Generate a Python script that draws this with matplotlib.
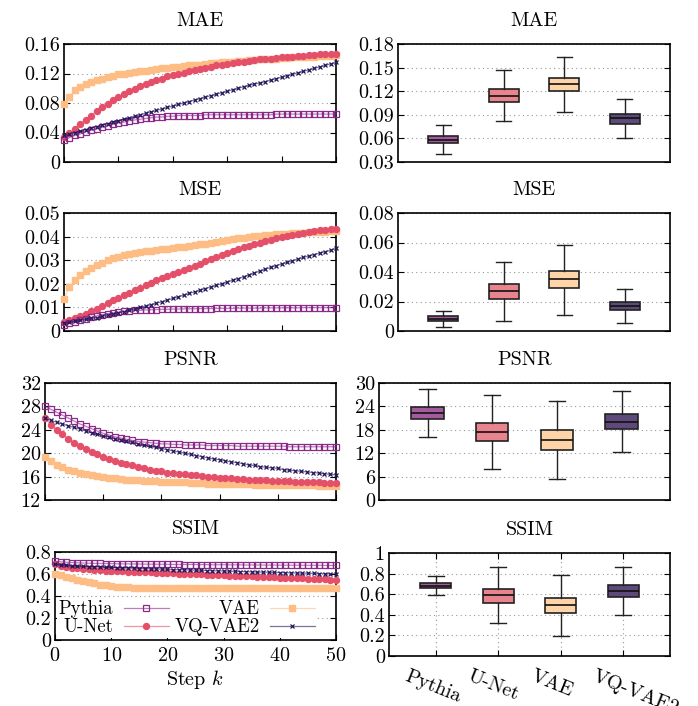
import matplotlib
matplotlib.use("Agg")
import matplotlib.pyplot as plt
from matplotlib.colors import to_rgba
from matplotlib.ticker import FuncFormatter, MultipleLocator

plt.rcParams['font.family'] = 'serif'
plt.rcParams['font.serif'] = ['cmr10', 'DejaVu Serif']
plt.rcParams['mathtext.fontset'] = 'cm'
plt.rcParams['axes.formatter.use_mathtext'] = True

models = ["Pythia", "U-Net", "VAE", "VQ-VAE2"]
steps = list(range(51))

# ---- per-step curves (left column) ----
mae_pythia = [0.030, 0.033, 0.036, 0.038, 0.041, 0.043, 0.045, 0.047, 0.049, 0.051,
              0.053, 0.054, 0.056, 0.057, 0.058, 0.059, 0.060, 0.061, 0.061, 0.062,
              0.062, 0.063, 0.063, 0.063, 0.063, 0.063, 0.064, 0.064, 0.064, 0.064,
              0.064, 0.064, 0.064, 0.064, 0.064, 0.064, 0.064, 0.064, 0.064, 0.065,
              0.065, 0.065, 0.065, 0.065, 0.065, 0.065, 0.065, 0.065, 0.065, 0.065, 0.065]
mae_unet = [0.034, 0.039, 0.045, 0.051, 0.057, 0.063, 0.069, 0.074, 0.079, 0.084,
            0.088, 0.092, 0.096, 0.099, 0.103, 0.106, 0.109, 0.111, 0.113, 0.116,
            0.118, 0.120, 0.121, 0.123, 0.125, 0.126, 0.128, 0.129, 0.131, 0.132,
            0.133, 0.134, 0.135, 0.136, 0.137, 0.138, 0.139, 0.139, 0.140, 0.141,
            0.142, 0.142, 0.143, 0.144, 0.144, 0.145, 0.145, 0.146, 0.146, 0.147, 0.147]
mae_vae = [0.078, 0.088, 0.097, 0.102, 0.106, 0.109, 0.111, 0.113, 0.115, 0.117,
           0.119, 0.120, 0.121, 0.122, 0.123, 0.124, 0.125, 0.126, 0.127, 0.128,
           0.129, 0.129, 0.130, 0.131, 0.132, 0.132, 0.133, 0.134, 0.134, 0.135,
           0.136, 0.136, 0.137, 0.137, 0.138, 0.138, 0.139, 0.139, 0.140, 0.140,
           0.141, 0.141, 0.142, 0.142, 0.143, 0.143, 0.143, 0.144, 0.144, 0.144, 0.145]
mae_vqvae = [0.036, 0.038, 0.040, 0.042, 0.044, 0.046, 0.048, 0.050, 0.052, 0.054,
             0.056, 0.058, 0.060, 0.062, 0.064, 0.066, 0.068, 0.070, 0.072, 0.074,
             0.076, 0.078, 0.080, 0.082, 0.084, 0.086, 0.088, 0.090, 0.092, 0.094,
             0.096, 0.098, 0.100, 0.102, 0.104, 0.106, 0.107, 0.109, 0.111, 0.113,
             0.115, 0.117, 0.119, 0.121, 0.123, 0.125, 0.127, 0.129, 0.131, 0.133, 0.135]

mse_pythia = [0.0026, 0.0033, 0.0040, 0.0046, 0.0052, 0.0058, 0.0064, 0.0069, 0.0073, 0.0077,
              0.0080, 0.0083, 0.0085, 0.0087, 0.0088, 0.0089, 0.0090, 0.0091, 0.0092, 0.0092,
              0.0093, 0.0093, 0.0094, 0.0094, 0.0094, 0.0095, 0.0095, 0.0095, 0.0096, 0.0096,
              0.0096, 0.0096, 0.0097, 0.0097, 0.0097, 0.0097, 0.0097, 0.0098, 0.0098, 0.0098,
              0.0098, 0.0098, 0.0098, 0.0098, 0.0099, 0.0099, 0.0099, 0.0099, 0.0099, 0.0099, 0.0099]
mse_unet = [0.0038, 0.0045, 0.0053, 0.0062, 0.0072, 0.0083, 0.0095, 0.0107, 0.0118, 0.0130,
            0.0141, 0.0152, 0.0163, 0.0174, 0.0184, 0.0194, 0.0204, 0.0214, 0.0223, 0.0232,
            0.0241, 0.0250, 0.0259, 0.0268, 0.0277, 0.0286, 0.0295, 0.0304, 0.0313, 0.0322,
            0.0330, 0.0338, 0.0346, 0.0354, 0.0361, 0.0368, 0.0375, 0.0381, 0.0387, 0.0393,
            0.0398, 0.0403, 0.0408, 0.0412, 0.0416, 0.0420, 0.0423, 0.0426, 0.0429, 0.0431, 0.0433]
mse_vae = [0.0136, 0.0185, 0.0215, 0.0238, 0.0255, 0.0268, 0.0280, 0.0290, 0.0300, 0.0308,
           0.0315, 0.0320, 0.0325, 0.0330, 0.0334, 0.0337, 0.0340, 0.0343, 0.0346, 0.0349,
           0.0352, 0.0355, 0.0358, 0.0361, 0.0364, 0.0367, 0.0370, 0.0374, 0.0378, 0.0382,
           0.0386, 0.0390, 0.0393, 0.0396, 0.0399, 0.0401, 0.0403, 0.0405, 0.0407, 0.0409,
           0.0411, 0.0413, 0.0414, 0.0416, 0.0417, 0.0418, 0.0419, 0.0420, 0.0421, 0.0422, 0.0423]
mse_vqvae = [0.0033, 0.0037, 0.0041, 0.0045, 0.0049, 0.0053, 0.0057, 0.0062, 0.0067, 0.0072,
             0.0077, 0.0082, 0.0088, 0.0094, 0.0100, 0.0106, 0.0112, 0.0118, 0.0124, 0.0131,
             0.0138, 0.0145, 0.0152, 0.0159, 0.0166, 0.0173, 0.0180, 0.0187, 0.0194, 0.0201,
             0.0208, 0.0215, 0.0222, 0.0230, 0.0238, 0.0246, 0.0254, 0.0262, 0.0270, 0.0277,
             0.0284, 0.0291, 0.0298, 0.0305, 0.0312, 0.0318, 0.0324, 0.0330, 0.0336, 0.0342, 0.0350]

psnr_pythia = [28.0, 27.5, 27.0, 26.5, 26.0, 25.5, 25.0, 24.6, 24.2, 23.8,
               23.4, 23.1, 22.8, 22.6, 22.4, 22.2, 22.0, 21.9, 21.8, 21.7,
               21.6, 21.6, 21.5, 21.5, 21.4, 21.4, 21.4, 21.4, 21.3, 21.3,
               21.3, 21.3, 21.3, 21.2, 21.2, 21.2, 21.2, 21.2, 21.2, 21.2,
               21.2, 21.2, 21.1, 21.1, 21.1, 21.1, 21.1, 21.1, 21.1, 21.1, 21.1]
psnr_unet = [26.0, 24.9, 24.0, 23.2, 22.4, 21.8, 21.2, 20.7, 20.2, 19.8,
             19.4, 19.0, 18.7, 18.4, 18.1, 17.9, 17.6, 17.4, 17.2, 17.0,
             16.9, 16.7, 16.6, 16.5, 16.4, 16.3, 16.2, 16.1, 16.0, 15.9,
             15.8, 15.8, 15.7, 15.6, 15.6, 15.5, 15.5, 15.4, 15.4, 15.3,
             15.3, 15.2, 15.2, 15.1, 15.1, 15.1, 15.0, 15.0, 14.9, 14.9, 14.9]
psnr_vae = [19.3, 18.6, 18.0, 17.6, 17.2, 16.9, 16.6, 16.4, 16.2, 16.1,
            15.9, 15.8, 15.7, 15.6, 15.5, 15.4, 15.4, 15.3, 15.2, 15.2,
            15.1, 15.1, 15.0, 15.0, 15.0, 14.9, 14.9, 14.9, 14.8, 14.8,
            14.8, 14.8, 14.7, 14.7, 14.7, 14.7, 14.6, 14.6, 14.6, 14.6,
            14.6, 14.5, 14.5, 14.5, 14.5, 14.5, 14.5, 14.4, 14.4, 14.4, 14.4]
psnr_vqvae = [26.0, 25.6, 25.3, 25.0, 24.7, 24.4, 24.1, 23.8, 23.5, 23.3,
              23.0, 22.8, 22.5, 22.3, 22.1, 21.9, 21.6, 21.4, 21.2, 21.0,
              20.8, 20.6, 20.4, 20.2, 20.0, 19.8, 19.6, 19.4, 19.2, 19.0,
              18.9, 18.7, 18.5, 18.4, 18.2, 18.0, 17.9, 17.7, 17.6, 17.5,
              17.4, 17.2, 17.1, 17.0, 16.9, 16.8, 16.7, 16.6, 16.5, 16.4, 16.3]

ssim_pythia = [0.715, 0.711, 0.707, 0.704, 0.702, 0.700, 0.698, 0.697, 0.696, 0.695,
               0.694, 0.693, 0.692, 0.692, 0.691, 0.690, 0.690, 0.689, 0.689, 0.688,
               0.688, 0.687, 0.687, 0.686, 0.686, 0.686, 0.685, 0.685, 0.684, 0.684,
               0.684, 0.683, 0.683, 0.683, 0.682, 0.682, 0.682, 0.681, 0.681, 0.681,
               0.680, 0.680, 0.680, 0.680, 0.679, 0.679, 0.679, 0.679, 0.678, 0.678, 0.678]
ssim_unet = [0.690, 0.677, 0.667, 0.659, 0.652, 0.646, 0.641, 0.637, 0.634, 0.631,
             0.628, 0.626, 0.624, 0.622, 0.620, 0.618, 0.616, 0.614, 0.612, 0.610,
             0.608, 0.606, 0.604, 0.602, 0.600, 0.598, 0.596, 0.594, 0.592, 0.590,
             0.588, 0.586, 0.584, 0.582, 0.580, 0.578, 0.576, 0.574, 0.572, 0.570,
             0.568, 0.566, 0.564, 0.562, 0.560, 0.558, 0.556, 0.554, 0.552, 0.550, 0.548]
ssim_vae = [0.600, 0.588, 0.576, 0.563, 0.550, 0.537, 0.525, 0.514, 0.504, 0.496,
            0.489, 0.484, 0.481, 0.479, 0.477, 0.476, 0.476, 0.475, 0.475, 0.475,
            0.475, 0.474, 0.474, 0.474, 0.474, 0.474, 0.474, 0.474, 0.473, 0.473,
            0.473, 0.473, 0.473, 0.473, 0.473, 0.473, 0.473, 0.473, 0.473, 0.472,
            0.472, 0.472, 0.472, 0.472, 0.472, 0.472, 0.472, 0.472, 0.472, 0.472, 0.472]
ssim_vqvae = [0.690, 0.685, 0.681, 0.677, 0.674, 0.671, 0.668, 0.666, 0.664, 0.662,
              0.660, 0.658, 0.656, 0.654, 0.652, 0.650, 0.649, 0.647, 0.645, 0.644,
              0.642, 0.640, 0.639, 0.637, 0.636, 0.634, 0.633, 0.631, 0.630, 0.628,
              0.627, 0.625, 0.624, 0.622, 0.621, 0.620, 0.618, 0.617, 0.616, 0.614,
              0.613, 0.612, 0.610, 0.609, 0.608, 0.607, 0.605, 0.604, 0.603, 0.601, 0.600]

# ---- box stats (right column): (whislo, q1, med, q3, whishi) per model ----
mae_box = [(0.040, 0.0537, 0.058, 0.063, 0.0766),
           (0.0821, 0.1063, 0.1143, 0.1224, 0.1465),
           (0.094, 0.1203, 0.1287, 0.1372, 0.163),
           (0.060, 0.0787, 0.0855, 0.091, 0.110)]
mse_box = [(0.003, 0.0066, 0.0084, 0.010, 0.0134),
           (0.007, 0.0218, 0.0268, 0.0316, 0.0466),
           (0.0109, 0.0289, 0.035, 0.0407, 0.0584),
           (0.0052, 0.0139, 0.0168, 0.0195, 0.0284)]
psnr_box = [(16.2, 20.7, 22.4, 23.8, 28.4),
            (8.0, 15.1, 17.5, 19.8, 26.9),
            (5.3, 12.9, 15.4, 17.9, 25.5),
            (12.3, 18.1, 20.1, 22.1, 27.9)]
ssim_box = [(0.594, 0.66, 0.68, 0.71, 0.781),
            (0.319, 0.519, 0.59, 0.655, 0.861),
            (0.197, 0.419, 0.494, 0.565, 0.79),
            (0.394, 0.571, 0.632, 0.687, 0.865)]

line_colors = ['#8b2a89', '#e4506a', '#fdbd84', '#24165a']
box_colors = ['#a45a9f', '#e9838e', '#fed4a8', '#5d4a7b']
marker_styles = [dict(marker='s', ms=4, mfc='none', mew=0.9),
                 dict(marker='o', ms=4.3),
                 dict(marker='s', ms=5),
                 dict(marker='x', ms=3.3, mew=0.9)]

W, H = 698, 706
fig = plt.figure(figsize=(W / 100, H / 100), dpi=100)

def px_axes(l, t, r, b):
    return fig.add_axes([l / W, 1 - b / H, (r - l) / W, (b - t) / H])

fmt = FuncFormatter(lambda v, p: f"{v:g}")

def series_kw(i):
    # thin translucent line, solid marker (as in the reference)
    kw = dict(color=to_rgba(line_colors[i], 0.6), lw=0.9, mec=line_colors[i])
    kw.update(marker_styles[i])
    if 'mfc' not in kw:
        kw['mfc'] = line_colors[i]
    return kw

def style(ax, title, ylim, ystep, top_ticks):
    ax.set_title(title, fontsize=14.5, pad=13)
    ax.set_ylim(*ylim)
    ax.yaxis.set_major_locator(MultipleLocator(ystep))
    ax.yaxis.set_major_formatter(fmt)
    ax.tick_params(direction='in', length=4, width=0.8, labelsize=14.5,
                   right=True, top=top_ticks, pad=3)
    ax.grid(axis='y', color='#999999', linestyle=(0, (1, 3)), linewidth=0.8)
    for s in ax.spines.values():
        s.set_linewidth(1.2)
    ax.set_axisbelow(True)

def line_panel(ax, title, ylim, ystep, pythia, unet, vae, vqvae, show_x=False):
    ax.plot(steps, vae, clip_on=False, zorder=3, **series_kw(2))
    ax.plot(steps, unet, clip_on=False, zorder=4, **series_kw(1))
    ax.plot(steps, pythia, clip_on=False, zorder=5, **series_kw(0))
    ax.plot(steps, vqvae, clip_on=False, zorder=6, **series_kw(3))
    ax.set_xlim(0, 50)
    ax.xaxis.set_major_locator(MultipleLocator(10))
    style(ax, title, ylim, ystep, False)
    if not show_x:
        ax.tick_params(labelbottom=False)

def box_panel(ax, title, ylim, ystep, boxes, show_x=False):
    stats = []
    for name, (lo, q1, med, q3, hi) in zip(models, boxes):
        stats.append(dict(label=name, whislo=lo, q1=q1, med=med, q3=q3, whishi=hi))
    bp = ax.bxp(stats, positions=[1, 2, 3, 4], widths=0.5, patch_artist=True,
                showfliers=False,
                boxprops=dict(edgecolor='#222222', linewidth=1.2),
                medianprops=dict(color='#111111', linewidth=1.2),
                whiskerprops=dict(color='#222222', linewidth=1.0),
                capprops=dict(color='#222222', linewidth=1.0))
    for patch, c in zip(bp['boxes'], box_colors):
        patch.set_facecolor(c)
    ax.set_xlim(0.25, 4.75)
    style(ax, title, ylim, ystep, True)
    if show_x:
        ax.grid(axis='x', color='#999999', linestyle=(0, (1, 3)), linewidth=0.8)
        ax.set_xticks([1, 2, 3, 4])
        ax.set_xticklabels([])
        for pos, name in zip([1, 2, 3, 4], models):
            ax.annotate(name, xy=(pos, 0), xycoords=('data', 'axes fraction'),
                        xytext=(-19, -8), textcoords='offset points',
                        rotation=-22, rotation_mode='anchor',
                        ha='left', va='top', fontsize=14.5, annotation_clip=False)
    else:
        ax.tick_params(axis='x', bottom=False, top=False, labelbottom=False)

ax = px_axes(64, 44, 336, 162)
line_panel(ax, "MAE", (0, 0.16), 0.04, mae_pythia, mae_unet, mae_vae, mae_vqvae)
ax = px_axes(398, 44, 670, 162)
box_panel(ax, "MAE", (0.03, 0.18), 0.03, mae_box)

ax = px_axes(64, 213, 336, 331)
line_panel(ax, "MSE", (0, 0.05), 0.01, mse_pythia, mse_unet, mse_vae, mse_vqvae)
ax = px_axes(398, 213, 670, 331)
box_panel(ax, "MSE", (0, 0.08), 0.02, mse_box)

ax = px_axes(45, 383, 336, 500)
line_panel(ax, "PSNR", (12, 32), 4, psnr_pythia, psnr_unet, psnr_vae, psnr_vqvae)
ax = px_axes(379, 383, 670, 500)
box_panel(ax, "PSNR", (0, 30), 6, psnr_box)

ax = px_axes(55, 552, 336, 640)
line_panel(ax, "SSIM", (0, 0.8), 0.2, ssim_pythia, ssim_unet, ssim_vae, ssim_vqvae,
           show_x=True)
ax.set_xlabel("Step $k$", fontsize=14.5, labelpad=2)
ax.tick_params(axis='x', pad=5)
handles = [plt.Line2D([], [], **series_kw(i)) for i in range(4)]
leg = ax.legend(handles, models, ncol=2, loc='lower left', bbox_to_anchor=(0.0, 0.0),
                fontsize=13.5, markerfirst=False, frameon=True, fancybox=False,
                framealpha=1, edgecolor='white', facecolor='white',
                handlelength=2.4, handletextpad=0.55, columnspacing=0.3,
                labelspacing=0.0, borderpad=0.1, borderaxespad=0.1,
                numpoints=1)
leg.get_frame().set_linewidth(0)
leg.set_zorder(10)

ax = px_axes(389, 553, 670, 656)
box_panel(ax, "SSIM", (0, 1), 0.2, ssim_box, show_x=True)

fig.savefig("out.png", dpi=100)
